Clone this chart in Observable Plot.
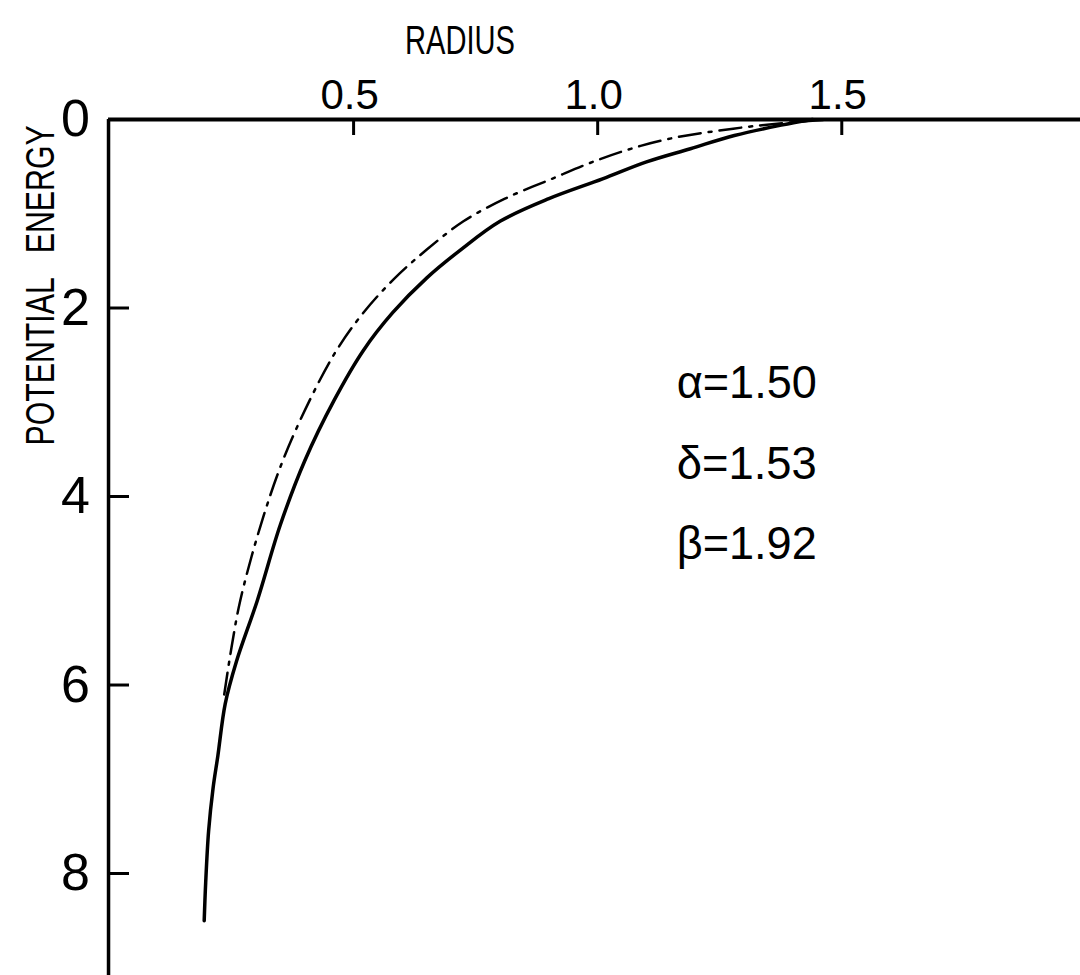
<!DOCTYPE html>
<html>
<head>
<meta charset="utf-8">
<script src="https://cdn.jsdelivr.net/npm/d3@7"></script>
<script src="https://cdn.jsdelivr.net/npm/@observablehq/plot@0.6"></script>
<style>
  html, body { margin: 0; padding: 0; background: #fff; }
  #chart svg { display: block; }
</style>
</head>
<body>
<div id="chart"></div>
<script>
// Potential energy against radius: full curve (solid) and approximation (dash-dot)
const solidRadius = [0.194, 0.197, 0.203, 0.212, 0.222, 0.237, 0.26, 0.303, 0.35, 0.40, 0.46, 0.52, 0.58, 0.65, 0.72, 0.80, 0.90, 1.01, 1.10, 1.19, 1.28, 1.376, 1.44];
const solidEnergy = [8.50, 8.10, 7.55, 7.10, 6.75, 6.20, 5.75, 5.10, 4.30, 3.62, 2.98, 2.45, 2.05, 1.68, 1.38, 1.08, 0.84, 0.63, 0.45, 0.31, 0.17, 0.06, 0.0];

const dashRadius = [0.235, 0.25, 0.268, 0.31, 0.355, 0.41, 0.465, 0.52, 0.585, 0.65, 0.725, 0.81, 0.906, 1.00, 1.088, 1.17, 1.246, 1.32, 1.40, 1.48];
const dashEnergy = [6.10, 5.60, 5.10, 4.30, 3.62, 2.98, 2.45, 2.05, 1.68, 1.38, 1.08, 0.84, 0.63, 0.43, 0.28, 0.18, 0.12, 0.07, 0.03, 0.0];

const xTicks = [0.5, 1.0, 1.5];
const xTickLabels = ["0.5", "1.0", "1.5"];
const yTicks = [0, 2, 4, 6, 8];
const yTickLabels = ["0", "2", "4", "6", "8"];
const paramLabels = ["α=1.50", "δ=1.53", "β=1.92"];
const xTitle = "RADIUS";
const yTitle = "POTENTIAL   ENERGY";

const solid = solidRadius.map((r, i) => ({r, e: solidEnergy[i]}));
const dashed = dashRadius.map((r, i) => ({r, e: dashEnergy[i]}));

const font = "'Liberation Sans', 'DejaVu Sans', sans-serif";

const chart = Plot.plot({
  width: 1080,
  height: 975,
  marginLeft: 109,
  marginRight: 0,
  marginTop: 119,
  marginBottom: 0,
  style: {fontFamily: font, background: "#fff", color: "#000", overflow: "visible"},
  x: {domain: [0, 1.989], axis: null},
  y: {domain: [0, 9.082], reverse: true, axis: null},
  marks: [
    // frame: top and left axis lines
    Plot.ruleY([0], {x1: -0.002, x2: 1.989, stroke: "#000", strokeWidth: 4}),
    Plot.ruleX([0], {x: () => -0.002, y1: 0, y2: 9.082, stroke: "#000", strokeWidth: 3.5}),
    // inward tick marks
    Plot.ruleX(xTicks, {y1: 0, y2: 0.17, stroke: "#000", strokeWidth: 3}),
    Plot.ruleY(yTicks.slice(1), {x1: 0, x2: 0.041, stroke: "#000", strokeWidth: 3}),
    // tick labels
    Plot.text(xTicks, {x: d => d, y: () => 0, text: (d, i) => xTickLabels[i], dx: -4, dy: -24, fontSize: 42, fill: "#000"}),
    Plot.text(yTicks, {x: () => 0, y: d => d, text: (d, i) => yTickLabels[i], dx: -34, fontSize: 52, fill: "#000"}),
    // axis titles
    Plot.text([xTitle], {x: () => 0.718, y: () => 0, dy: -79, text: d => d, fontSize: 41, fill: "#000"}),
    Plot.text([yTitle], {x: () => 0, y: () => 1.76, dx: -69, rotate: -90, text: d => d, fontSize: 41, fill: "#000"}),
    // curves
    Plot.line(dashed, {x: "r", y: "e", curve: "catmull-rom", stroke: "#000", strokeWidth: 2.5, strokeDasharray: "22,8,3,8"}),
    Plot.line(solid, {x: "r", y: "e", curve: "catmull-rom", stroke: "#000", strokeWidth: 3.5}),
    // parameter annotations
    Plot.text(paramLabels, {x: () => 1.162, y: (d, i) => 2.80 + i * 0.855, text: d => d, textAnchor: "start", fontSize: 46, fill: "#000"})
  ]
});

// narrow lettering for the axis titles
d3.select(chart).selectAll("text")
  .filter(function() { return this.textContent === xTitle; })
  .attr("textLength", 110).attr("lengthAdjust", "spacingAndGlyphs");
d3.select(chart).selectAll("text")
  .filter(function() { return this.textContent === yTitle; })
  .attr("textLength", 320).attr("lengthAdjust", "spacingAndGlyphs");
d3.select(chart).selectAll("text")
  .filter(function() { return paramLabels.includes(this.textContent); })
  .attr("textLength", 140).attr("lengthAdjust", "spacingAndGlyphs");

document.getElementById("chart").appendChild(chart);
</script>
</body>
</html>
